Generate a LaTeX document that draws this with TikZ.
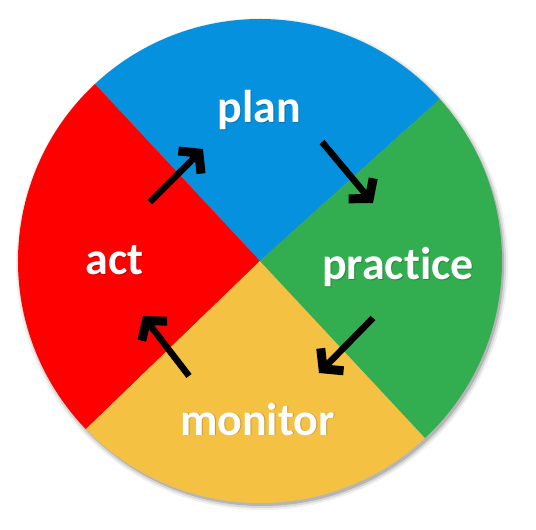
\documentclass[tikz,border=0pt]{standalone}
\usepackage{fontspec}
\setmainfont{Carlito}[Ligatures=NoCommon]
\usetikzlibrary{arrows.meta}

\definecolor{planblue}{RGB}{5,145,222}
\definecolor{practicegreen}{RGB}{50,173,80}
\definecolor{monitoryellow}{RGB}{244,193,66}
\definecolor{actred}{RGB}{255,0,0}

\begin{document}
\begin{tikzpicture}[
  x=1pt,
  y=1pt,
  >={Straight Barb[length=13pt,width=32pt,line width=9pt]},
  quarter/.style={draw=none},
  word/.style={
    text=white,
    font=\fontsize{46}{50}\selectfont\bfseries,
    anchor=base,
    inner sep=0pt
  },
  wordshadow/.style={
    word,
    text=black,
    text opacity=0.2
  },
  cyclearrow/.style={
    ->,
    line width=6.5pt,
    black
  }
]
  \useasboundingbox (-260,-269) rectangle (276,261);

  % soft shadow under the disc
  \foreach \r/\o in {246/0.06,244/0.1,242/0.16}
    \fill[black,opacity=\o] (2,-3) circle (\r);

  % the four quarters
  \fill[quarter,planblue] (0,0) -- (42:242) arc (42:133:242) -- cycle;
  \fill[quarter,actred] (0,0) -- (133:242) arc (133:224:242) -- cycle;
  \fill[quarter,monitoryellow] (0,0) -- (224:242) arc (224:313:242) -- cycle;
  \fill[quarter,practicegreen] (0,0) -- (313:242) arc (313:402:242) -- cycle;

  % labels
  \node[wordshadow] (plan shadow) at (0.5,137) {plan};
  \node[word] (plan) at (-0.5,138) {plan};
  \node[wordshadow] (practice shadow) at (139,-20) {practice};
  \node[word] (practice) at (138,-19) {practice};
  \node[wordshadow] (monitor shadow) at (-1.5,-175) {monitor};
  \node[word] (monitor) at (-2.5,-174) {monitor};
  \node[wordshadow] (act shadow) at (-144.5,-15) {act};
  \node[word] (act) at (-145.5,-14) {act};

  % arrow ends
  \coordinate (act out) at (-110,59);
  \coordinate (plan in) at (-57,112);
  \coordinate (plan out) at (62,119);
  \coordinate (practice in) at (113,58);
  \coordinate (practice out) at (113,-57);
  \coordinate (monitor in) at (59,-112);
  \coordinate (monitor out) at (-71,-115);
  \coordinate (act in) at (-117,-55);

  \draw[cyclearrow] (act out) -- (plan in);
  \draw[cyclearrow] (plan out) -- (practice in);
  \draw[cyclearrow] (practice out) -- (monitor in);
  \draw[cyclearrow] (monitor out) -- (act in);
\end{tikzpicture}
\end{document}
